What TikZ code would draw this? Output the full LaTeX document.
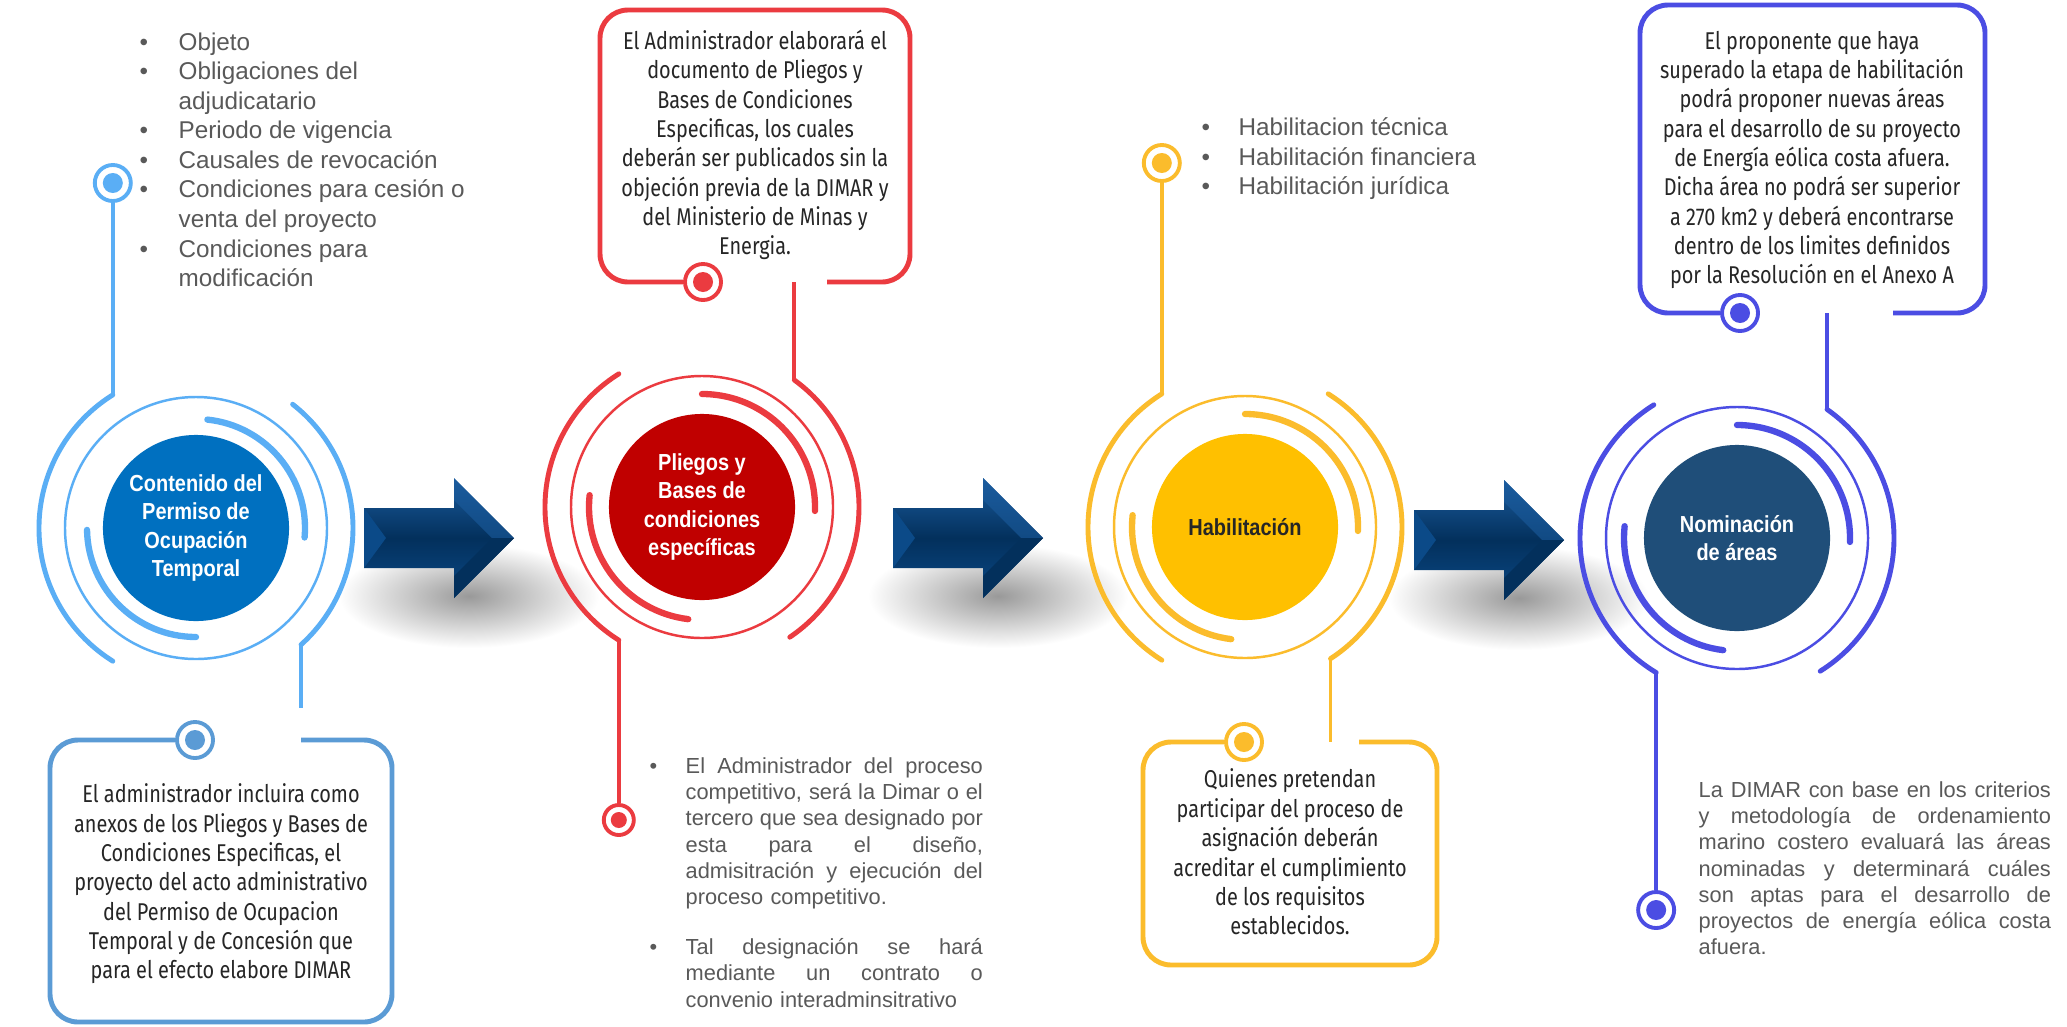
\documentclass[tikz,border=0pt]{standalone}
\usepackage{fontspec}
\setmainfont{Liberation Sans}
\newfontfamily\condfont[FakeStretch=0.82]{Fira Sans}
\newfontfamily\narrowfont[FakeStretch=0.86]{Liberation Sans}
\usetikzlibrary{positioning, calc}
\definecolor{ringblue}{HTML}{5AAEF5}
\definecolor{coreblue}{HTML}{0070C0}
\definecolor{boxblue}{HTML}{5B9BD5}
\definecolor{ringred}{HTML}{EB3B40}
\definecolor{corered}{HTML}{C00000}
\definecolor{ringamber}{HTML}{FBBC2C}
\definecolor{coreamber}{HTML}{FFC000}
\definecolor{ringviolet}{HTML}{4B4DE3}
\definecolor{coreslate}{HTML}{1F4E79}
\definecolor{navyhigh}{HTML}{1B5C9E}
\definecolor{navydeep}{HTML}{03305C}
\definecolor{navymid}{HTML}{0B4A88}
\definecolor{textdark}{HTML}{262626}
\definecolor{textgray}{HTML}{595959}
% justified single line (align=left fixes \spaceskip, so reset it)
\newcommand{\jline}[2][2.97cm]{\makebox[#1][s]{\spaceskip=0pt\relax #2}}
\newcommand{\hangbullet}{\leavevmode\llap{\makebox[0.36cm][l]{\textbullet}}}

\begin{document}
\begin{tikzpicture}[x=0.01cm, y=0.01cm,
    core/.style={
        circle,
        minimum size=1.86cm,
        inner sep=0pt,
        align=center,
        font=\narrowfont\bfseries\fontsize{6.6}{8.1}\selectfont,
        text=white
    },
    thinring/.style={line width=0.7pt},
    innerarc/.style={line width=1.8pt, line cap=round},
    outerarc/.style={line width=1.4pt, line cap=round},
    link/.style={line width=1.1pt},
    dotring/.style={
        circle,
        fill=white,
        line width=1.1pt,
        minimum size=0.36cm,
        inner sep=0pt
    },
    infobox/.style={line width=1.4pt, rounded corners=0.28cm},
    boxtext/.style={
        font=\condfont\fontsize{6.9}{8.35}\selectfont,
        text=textdark,
        align=center
    },
    item/.style={
        font=\fontsize{6.9}{8.4}\selectfont,
        text=textgray,
        align=left,
        inner sep=0pt
    },
    note/.style={
        font=\fontsize{6.2}{7.45}\selectfont,
        text=textgray,
        align=left,
        inner sep=0pt
    },
    navy/.style={top color=navyhigh, bottom color=navymid, middle color=navydeep},
    softshadow/.style={inner color=black!40, outer color=white}
]

% Canvas
\fill[white] (0,0) rectangle (2067,1026);
\useasboundingbox (0,0) rectangle (2067,1026);

% Arrows between the stages
\coordinate (a1) at (364,488);
\coordinate (a2) at (893,488);
\coordinate (a3) at (1414,486);

\shade[softshadow] ($(a1)+(105,-58)$) ellipse[x radius=130, y radius=52];
\shade[softshadow] ($(a2)+(105,-58)$) ellipse[x radius=130, y radius=52];
\shade[softshadow] ($(a3)+(105,-58)$) ellipse[x radius=130, y radius=52];

\shade[navy] (a1) ++(0,30) -- ++(90,0) -- ++(0,30) -- ++(60,-60) -- ++(-60,-60) -- ++(0,30) -- ++(-90,0) -- cycle;
\fill[navymid] (a1) ++(0,30) -- ++(22,-30) -- ++(-22,-30) -- cycle;
\fill[navyhigh, opacity=0.6] (a1) ++(90,60) -- ++(60,-60) -- ++(-22,0) -- ++(-38,38) -- cycle;
\fill[navydeep] (a1) ++(90,-60) -- ++(60,60) -- ++(-22,0) -- ++(-38,-38) -- cycle;

\shade[navy] (a2) ++(0,30) -- ++(90,0) -- ++(0,30) -- ++(60,-60) -- ++(-60,-60) -- ++(0,30) -- ++(-90,0) -- cycle;
\fill[navymid] (a2) ++(0,30) -- ++(22,-30) -- ++(-22,-30) -- cycle;
\fill[navyhigh, opacity=0.6] (a2) ++(90,60) -- ++(60,-60) -- ++(-22,0) -- ++(-38,38) -- cycle;
\fill[navydeep] (a2) ++(90,-60) -- ++(60,60) -- ++(-22,0) -- ++(-38,-38) -- cycle;

\shade[navy] (a3) ++(0,30) -- ++(90,0) -- ++(0,30) -- ++(60,-60) -- ++(-60,-60) -- ++(0,30) -- ++(-90,0) -- cycle;
\fill[navymid] (a3) ++(0,30) -- ++(22,-30) -- ++(-22,-30) -- cycle;
\fill[navyhigh, opacity=0.6] (a3) ++(90,60) -- ++(60,-60) -- ++(-22,0) -- ++(-38,38) -- cycle;
\fill[navydeep] (a3) ++(90,-60) -- ++(60,60) -- ++(-22,0) -- ++(-38,-38) -- cycle;

% Stage 1: Contenido del Permiso
\node[core, fill=coreblue] (s1) at (196,498) {Contenido del\\Permiso de\\Ocupación\\Temporal};
\draw[thinring, ringblue] (s1.center) circle[radius=131];
\draw[innerarc, ringblue] ([shift={(84:109)}]s1.center) arc[start angle=84, end angle=-5, radius=109];
\draw[innerarc, ringblue] ([shift={(181:109)}]s1.center) arc[start angle=181, end angle=270, radius=109];
\draw[outerarc, ringblue] ([shift={(122:157)}]s1.center) coordinate (s1top) arc[start angle=122, end angle=238, radius=157];
\draw[outerarc, ringblue] ([shift={(52:157)}]s1.center) arc[start angle=52, end angle=-48, radius=157] coordinate (s1bot);

\node[dotring, draw=ringblue] (s1pin) at (s1top |- 0,843) {};
\fill[ringblue] (s1pin) circle[radius=10];
\draw[link, ringblue] (s1pin.south) -- (s1top);
\node[item, anchor=north west] (s1list) at (139,994) {%
    \makebox[0.39cm][l]{\textbullet}Objeto\\
    \makebox[0.39cm][l]{\textbullet}Obligaciones del\\
    \hspace*{0.39cm}adjudicatario\\
    \makebox[0.39cm][l]{\textbullet}Periodo de vigencia\\
    \makebox[0.39cm][l]{\textbullet}Causales de revocación\\
    \makebox[0.39cm][l]{\textbullet}Condiciones para cesión o\\
    \hspace*{0.39cm}venta del proyecto\\
    \makebox[0.39cm][l]{\textbullet}Condiciones para\\
    \hspace*{0.39cm}modificación};

\node[dotring, draw=boxblue] (b1pin) at (195,286) {};
\fill[boxblue] (b1pin) circle[radius=10];
\coordinate (s1end) at (s1bot |- 0,318);
\draw[link, ringblue] (s1bot) -- (s1end);
\draw[infobox, boxblue] (s1bot |- b1pin) -- (392,286) -- (392,4) -- (50,4) -- (50,286) -- (b1pin.west);
\node[boxtext] (b1) at (221,142) {El administrador incluira como\\anexos de los Pliegos y Bases de\\Condiciones Especificas, el\\proyecto del acto administrativo\\del Permiso de Ocupacion\\Temporal y de Concesión que\\para el efecto elabore DIMAR};

% Stage 2: Pliegos y Bases
\node[core, fill=corered] (s2) at (702,519) {Pliegos y\\Bases de\\condiciones\\específicas};
\draw[thinring, ringred] (s2.center) circle[radius=131];
\draw[innerarc, ringred] ([shift={(90:113)}]s2.center) arc[start angle=90, end angle=-2, radius=113];
\draw[innerarc, ringred] ([shift={(174:113)}]s2.center) arc[start angle=174, end angle=263, radius=113];
\draw[outerarc, ringred] ([shift={(122:157)}]s2.center) arc[start angle=122, end angle=238, radius=157] coordinate (s2bot);
\draw[outerarc, ringred] ([shift={(54:157)}]s2.center) coordinate (s2top) arc[start angle=54, end angle=-56, radius=157];

\node[dotring, draw=ringred] (b2pin) at (703,744) {};
\fill[ringred] (b2pin) circle[radius=10];
\draw[infobox, ringred] (827,744) -- (910,744) -- (910,1016) -- (600,1016) -- (600,744) -- (b2pin.west);
\draw[link, ringred] (s2top |- b2pin) -- (s2top);
\node[boxtext] (b2) at (755,881) {El Administrador elaborará el\\documento de Pliegos y\\Bases de Condiciones\\Especificas, los cuales\\deberán ser publicados sin la\\objeción previa de la DIMAR y\\del Ministerio de Minas y\\Energia.};

\node[dotring, draw=ringred, minimum size=0.3cm] (s2pin) at (s2bot |- 0,206) {};
\fill[ringred] (s2pin) circle[radius=8];
\draw[link, ringred] (s2bot) -- (s2pin.north);
\node[note, text width=2.97cm, anchor=north west] (s2list) at (685,269) {%
    \hangbullet\jline{El Administrador del proceso}\\
    \jline{competitivo, será la Dimar o el}\\
    \jline{tercero que sea designado por}\\
    \jline{esta para el diseño,}\\
    \jline{admisitración y ejecución del}\\
    proceso competitivo.\\[0.24cm]
    \hangbullet\jline{Tal designación se hará}\\
    \jline{mediante un contrato o}\\
    convenio interadminsitrativo};

% Stage 3: Habilitacion
\node[core, fill=coreamber, text=textdark] (s3) at (1245,499) {Habilitación};
\draw[thinring, ringamber] (s3.center) circle[radius=131];
\draw[innerarc, ringamber] ([shift={(90:113)}]s3.center) arc[start angle=90, end angle=-2, radius=113];
\draw[innerarc, ringamber] ([shift={(174:113)}]s3.center) arc[start angle=174, end angle=263, radius=113];
\draw[outerarc, ringamber] ([shift={(122:157)}]s3.center) coordinate (s3top) arc[start angle=122, end angle=238, radius=157];
\draw[outerarc, ringamber] ([shift={(58:157)}]s3.center) arc[start angle=58, end angle=-57, radius=157] coordinate (s3bot);

\node[dotring, draw=ringamber] (s3pin) at (s3top |- 0,863) {};
\fill[ringamber] (s3pin) circle[radius=10];
\draw[link, ringamber] (s3pin.south) -- (s3top);
\node[item, anchor=north west] (s3list) at (1201,909) {%
    \makebox[0.37cm][l]{\textbullet}Habilitacion técnica\\
    \makebox[0.37cm][l]{\textbullet}Habilitación financiera\\
    \makebox[0.37cm][l]{\textbullet}Habilitación jurídica};

\node[dotring, draw=ringamber] (b3pin) at (1244,284) {};
\fill[ringamber] (b3pin) circle[radius=10];
\draw[infobox, ringamber] (1359,284) -- (1437,284) -- (1437,61) -- (1143,61) -- (1143,284) -- (b3pin.west);
\draw[link, ringamber] (s3bot) -- (s3bot |- b3pin);
\node[boxtext] (b3) at (1290,174) {Quienes pretendan\\participar del proceso de\\asignación deberán\\acreditar el cumplimiento\\de los requisitos\\establecidos.};

% Stage 4: Nominacion de areas
\node[core, fill=coreslate] (s4) at (1737,488) {Nominación\\de áreas};
\draw[thinring, ringviolet] (s4.center) circle[radius=131];
\draw[innerarc, ringviolet] ([shift={(90:113)}]s4.center) arc[start angle=90, end angle=-2, radius=113];
\draw[innerarc, ringviolet] ([shift={(174:113)}]s4.center) arc[start angle=174, end angle=263, radius=113];
\draw[outerarc, ringviolet] ([shift={(122:157)}]s4.center) arc[start angle=122, end angle=239, radius=157] coordinate (s4bot);
\draw[outerarc, ringviolet] ([shift={(55:157)}]s4.center) coordinate (s4top) arc[start angle=55, end angle=-58, radius=157];

\node[dotring, draw=ringviolet] (b4pin) at (1740,713) {};
\fill[ringviolet] (b4pin) circle[radius=10];
\draw[infobox, ringviolet] (1893,713) -- (1985,713) -- (1985,1021) -- (1640,1021) -- (1640,713) -- (b4pin.west);
\draw[link, ringviolet] (s4top |- b4pin) -- (s4top);
\node[boxtext] (b4) at (1812,866) {El proponente que haya\\superado la etapa de habilitación\\podrá proponer nuevas áreas\\para el desarrollo de su proyecto\\de Energía eólica costa afuera.\\Dicha área no podrá ser superior\\a 270 km2 y deberá encontrarse\\dentro de los limites definidos\\por la Resolución en el Anexo A};

\node[dotring, draw=ringviolet] (s4pin) at (s4bot |- 0,116) {};
\fill[ringviolet] (s4pin) circle[radius=10];
\draw[link, ringviolet] (s4bot) -- (s4pin.north);
\node[note, text width=3.52cm, anchor=north west] (s4note) at (1698,245) {%
    \jline[3.52cm]{La DIMAR con base en los criterios}\\
    \jline[3.52cm]{y metodología de ordenamiento}\\
    \jline[3.52cm]{marino costero evaluará las áreas}\\
    \jline[3.52cm]{nominadas y determinará cuáles}\\
    \jline[3.52cm]{son aptas para el desarrollo de}\\
    \jline[3.52cm]{proyectos de energía eólica costa}\\
    afuera.};

\end{tikzpicture}
\end{document}
